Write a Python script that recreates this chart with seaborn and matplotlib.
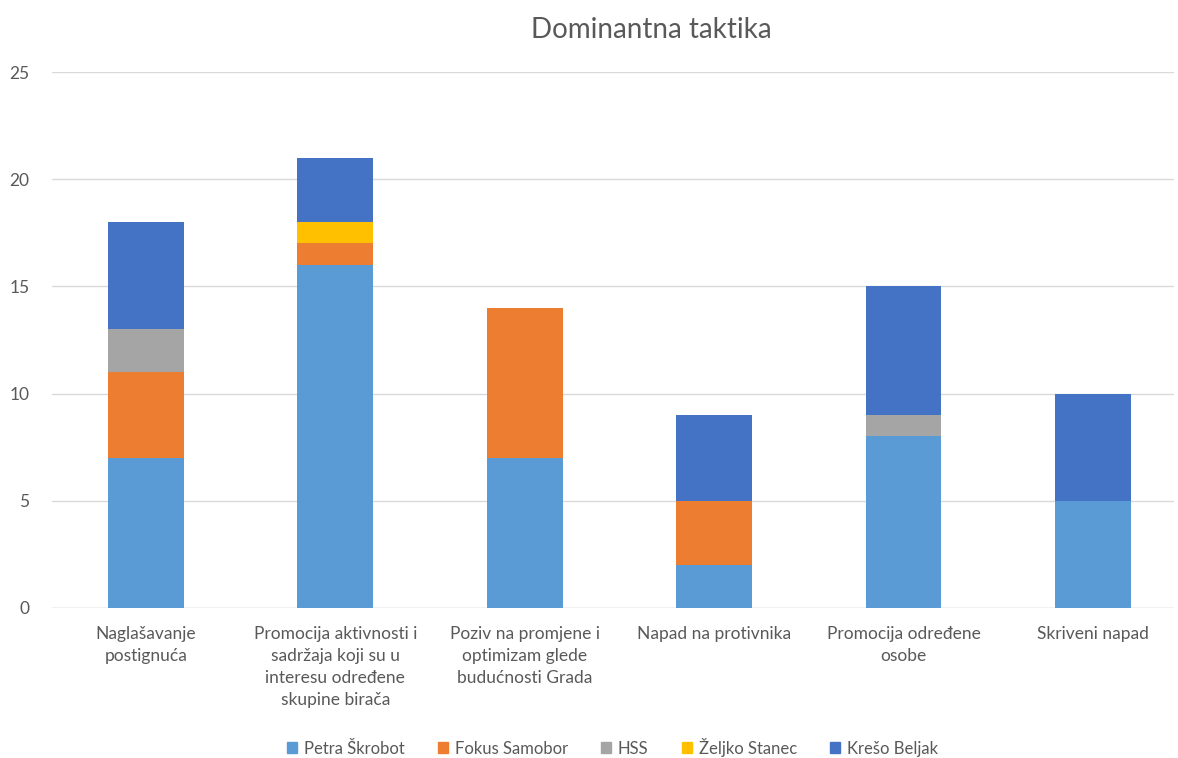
import matplotlib
matplotlib.use("Agg")
import matplotlib.pyplot as plt
import matplotlib.patches as mpatches
import seaborn as sns
import pandas as pd

# data
categories = ["Naglašavanje\npostignuća",
              "Promocija aktivnosti i\nsadržaja koji su u\ninteresu određene\nskupine birača",
              "Poziv na promjene i\noptimizam glede\nbudućnosti Grada",
              "Napad na protivnika",
              "Promocija određene\nosobe",
              "Skriveni napad"]
series = ["Petra Škrobot", "Fokus Samobor", "HSS", "Željko Stanec", "Krešo Beljak"]
petra = [7, 16, 7, 2, 8, 5]
fokus = [4, 1, 7, 3, 0, 0]
hss = [2, 0, 0, 0, 1, 0]
zeljko = [0, 1, 0, 0, 0, 0]
kreso = [5, 3, 0, 4, 6, 5]
colors = ["#5B9BD5", "#ED7D31", "#A5A5A5", "#FFC000", "#4472C4"]

df = pd.DataFrame({"kategorija": categories, series[0]: petra, series[1]: fokus,
                   series[2]: hss, series[3]: zeljko, series[4]: kreso})
cum = df[series].cumsum(axis=1)
cum["kategorija"] = categories

sns.set_style("white")
plt.rcParams["font.family"] = ["Lato", "DejaVu Sans"]
text_col = "#595959"

fig = plt.figure(figsize=(11.78, 7.58), dpi=100)
ax = fig.add_axes([0.044, 0.198, 0.953, 0.707])

# stacked bars: draw cumulative totals from the top series down
for s, c in reversed(list(zip(series, colors))):
    sns.barplot(data=cum, x="kategorija", y=s, color=c, width=0.4,
                saturation=1, ax=ax, zorder=2, linewidth=0)

ax.set_ylim(0, 25)
ax.set_yticks([0, 5, 10, 15, 20, 25])
ax.set_xlim(-0.496, 5.43)
ax.grid(axis="y", color="#D9D9D9", linewidth=1, zorder=0)
ax.set_axisbelow(True)
for sp in ["top", "right", "left", "bottom"]:
    ax.spines[sp].set_visible(False)
ax.axhline(0, color="#D9D9D9", linewidth=1, zorder=1)
ax.set_xlabel("")
ax.set_ylabel("")
ax.tick_params(axis="both", length=0, labelsize=12.5, colors=text_col)
ax.tick_params(axis="y", pad=16)
ax.tick_params(axis="x", pad=13)
for lbl in ax.get_xticklabels():
    lbl.set_linespacing(1.45)

fig.suptitle("Dominantna taktika", x=0.553, y=0.978, fontsize=20, color=text_col)

handles = [mpatches.Patch(color=c, label=s) for s, c in zip(series, colors)]
leg = fig.legend(handles=handles, loc="lower center", bbox_to_anchor=(0.52, -0.018),
                 ncol=5, frameon=False, fontsize=12, handlelength=0.6, handleheight=0.6,
                 handletextpad=0.4, columnspacing=2.0)
for t in leg.get_texts():
    t.set_color(text_col)

fig.savefig("out.png", dpi=100)
